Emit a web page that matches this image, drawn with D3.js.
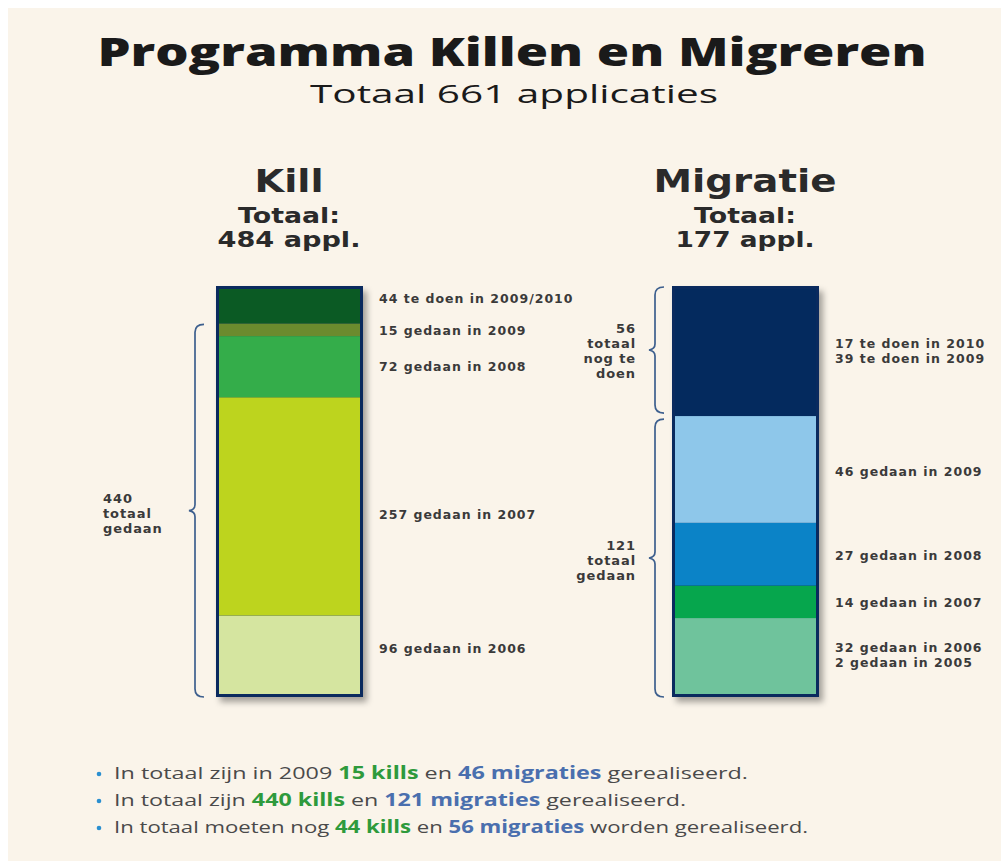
<!DOCTYPE html>
<html><head><meta charset="utf-8">
<script src="https://cdn.jsdelivr.net/npm/d3@7"></script>
<style>html,body{margin:0;padding:0;background:#fff}svg{display:block}</style>
</head><body>
<script>
// ---- data (bottom to top) ----
const killValues = [96, 257, 72, 15, 44];
const killLabels = [["96 gedaan in 2006"], ["257 gedaan in 2007"], ["72 gedaan in 2008"], ["15 gedaan in 2009"], ["44 te doen in 2009/2010"]];
const killColors = ["#d5e5a0", "#bdd41e", "#34ad4a", "#6b8b2e", "#0b5a24"];
const migValues = [34, 14, 27, 46, 56];
const migLabels = [["32 gedaan in 2006", "2 gedaan in 2005"], ["14 gedaan in 2007"], ["27 gedaan in 2008"], ["46 gedaan in 2009"], ["17 te doen in 2010", "39 te doen in 2009"]];
const migColors = ["#6fc39c", "#06a64d", "#0b83c7", "#8ec7ea", "#042a5e"];
const killBrace = {from: 0, to: 4, label: ["440", "totaal", "gedaan"]};
const migBraces = [{from: 0, to: 4, label: ["121", "totaal", "gedaan"]}, {from: 4, to: 5, label: ["56", "totaal", "nog te", "doen"]}];
const title = "Programma Killen en Migreren";
const subtitle = "Totaal 661 applicaties";
const notes = [
  [["In totaal zijn in 2009 ", 0], ["15 kills", 1], [" en ", 0], ["46 migraties", 2], [" gerealiseerd.", 0]],
  [["In totaal zijn ", 0], ["440 kills", 1], [" en ", 0], ["121 migraties", 2], [" gerealiseerd.", 0]],
  [["In totaal moeten nog ", 0], ["44 kills", 1], [" en ", 0], ["56 migraties", 2], [" worden gerealiseerd.", 0]]
];

// layout-only nudges of the segment labels (px)
const killLabelNudge = [-7, 9, 0, 1, -6];
const migLabelNudge = [-2, 1, 2, 3, 0];

const W = 1001, H = 861;
const svg = d3.select("body").append("svg").attr("width", W).attr("height", H);
const defs = svg.append("defs");
const f = defs.append("filter").attr("id", "sh").attr("x", "-20%").attr("y", "-20%").attr("width", "150%").attr("height", "150%");
f.append("feDropShadow").attr("dx", 4).attr("dy", 5).attr("stdDeviation", 3).attr("flood-color", "#000").attr("flood-opacity", 0.35);

svg.append("rect").attr("x", 8).attr("y", 8).attr("width", W - 8).attr("height", H - 8).attr("fill", "#faf4ea");

const ink = "#2a2a2a";
function stretch(t, w) {
  t.attr("textLength", w).attr("lengthAdjust", "spacingAndGlyphs");
}

// Titles
const tt = svg.append("text").attr("x", 512).attr("y", 66).attr("text-anchor", "middle")
  .attr("font-family", "Open Sans").attr("font-weight", 800).attr("font-size", 39).attr("fill", "#1a1a1a").text(title);
stretch(tt, 829);
const st = svg.append("text").attr("x", 514).attr("y", 103).attr("text-anchor", "middle")
  .attr("font-family", "Open Sans").attr("font-size", 26).attr("fill", "#1a1a1a").text(subtitle);
stretch(st, 408);

const yTop = 286, yBot = 697;
function drawBar(cx, values, colors, labels, nudge, head, tot1, tot2, wHead, wTot1, wTot2) {
  const x0 = cx - 73, bw = 147;
  const total = d3.sum(values);
  const y = d3.scaleLinear().domain([0, total]).range([yBot, yTop]);
  const cum = [0, ...d3.cumsum(values)];
  const h = svg.append("text").attr("x", cx).attr("y", 192).attr("text-anchor", "middle")
    .attr("font-family", "DejaVu Sans").attr("font-weight", "bold").attr("font-size", 32).attr("fill", ink).text(head);
  stretch(h, wHead);
  const a = svg.append("text").attr("x", cx).attr("y", 223).attr("text-anchor", "middle")
    .attr("font-family", "DejaVu Sans").attr("font-weight", "bold").attr("font-size", 22).attr("fill", ink).text(tot1);
  stretch(a, wTot1);
  const b = svg.append("text").attr("x", cx).attr("y", 247).attr("text-anchor", "middle")
    .attr("font-family", "DejaVu Sans").attr("font-weight", "bold").attr("font-size", 22).attr("fill", ink).text(tot2);
  stretch(b, wTot2);

  const g = svg.append("g");
  g.append("rect").attr("x", x0).attr("y", yTop).attr("width", bw).attr("height", yBot - yTop)
    .attr("fill", "#0a2a5e").attr("filter", "url(#sh)");
  g.selectAll("rect.seg").data(values).join("rect").attr("class", "seg")
    .attr("x", x0).attr("width", bw)
    .attr("y", (d, i) => y(cum[i + 1])).attr("height", (d, i) => y(cum[i]) - y(cum[i + 1]))
    .attr("fill", (d, i) => colors[i]);
  g.append("rect").attr("x", x0 + 1.5).attr("y", yTop + 1.5).attr("width", bw - 3).attr("height", yBot - yTop - 3)
    .attr("fill", "none").attr("stroke", "#0a2a5e").attr("stroke-width", 3);

  labels.forEach((ls, i) => {
    const ym = (y(cum[i]) + y(cum[i + 1])) / 2 + nudge[i];
    const t = svg.append("text").attr("font-family", "DejaVu Sans").attr("font-weight", "bold")
      .attr("font-size", 12.5).attr("letter-spacing", 1.0).attr("fill", "#3a3a3a");
    ls.forEach((s, k) => {
      t.append("tspan").attr("x", x0 + bw + 16).attr("y", ym + 4 + (k - (ls.length - 1) / 2) * 15).text(s);
    });
  });
  return {y, cum};
}

function brace(x, y0, y1) {
  const ym = (y0 + y1) / 2, c = 8;
  const p = d3.path();
  p.moveTo(x + 9, y0);
  p.quadraticCurveTo(x, y0, x, y0 + c);
  p.lineTo(x, ym - 6);
  p.quadraticCurveTo(x, ym - 1, x - 6, ym);
  p.quadraticCurveTo(x, ym + 1, x, ym + 6);
  p.lineTo(x, y1 - c);
  p.quadraticCurveTo(x, y1, x + 9, y1);
  svg.append("path").attr("d", p.toString()).attr("fill", "none").attr("stroke", "#3d5f8e").attr("stroke-width", 1.7);
}
function braceLabel(x, ym, lines, anchor) {
  const t = svg.append("text").attr("font-family", "DejaVu Sans").attr("font-weight", "bold")
    .attr("font-size", 13).attr("letter-spacing", 0.9).attr("fill", "#3a3a3a").attr("text-anchor", anchor);
  lines.forEach((s, k) => {
    t.append("tspan").attr("x", x).attr("y", ym + 4 + (k - (lines.length - 1) / 2) * 15).text(s);
  });
}

const K = drawBar(289, killValues, killColors, killLabels, killLabelNudge, "Kill", "Totaal:", "484 appl.", 69, 102, 143);
const M = drawBar(745, migValues, migColors, migLabels, migLabelNudge, "Migratie", "Totaal:", "177 appl.", 183, 102, 139);

// Kill brace
{
  const y0 = K.y(K.cum[killBrace.to]), y1 = K.y(K.cum[killBrace.from]);
  brace(195, y0 + 1, y1);
  braceLabel(103, (y0 + y1) / 2 + 4, killBrace.label, "start");
}
migBraces.forEach((bb, i) => {
  const y0 = M.y(M.cum[bb.to]), y1 = M.y(M.cum[bb.from]);
  brace(655, y0 + (i === 0 ? 3 : 1), y1 - (i === 1 ? 3 : 0));
  braceLabel(636, (y0 + y1) / 2 + (i === 0 ? 4 : 0), bb.label, "end");
});

// Notes
const noteColors = ["#4a4a4a", "#2e9a3c", "#4a6fae"];
const noteWidths = [634, 572, 694];
notes.forEach((parts, i) => {
  const yy = 779 + i * 27;
  svg.append("circle").attr("cx", 99).attr("cy", yy - 5).attr("r", 2.3).attr("fill", "#2a8fd0");
  const t = svg.append("text").attr("x", 114).attr("y", yy).attr("font-family", "Open Sans").attr("font-size", 17);
  parts.forEach(([s, k]) => {
    t.append("tspan").text(s).attr("fill", noteColors[k]).attr("font-weight", k ? 700 : 400);
  });
  stretch(t, noteWidths[i]);
});
</script>
</body></html>
